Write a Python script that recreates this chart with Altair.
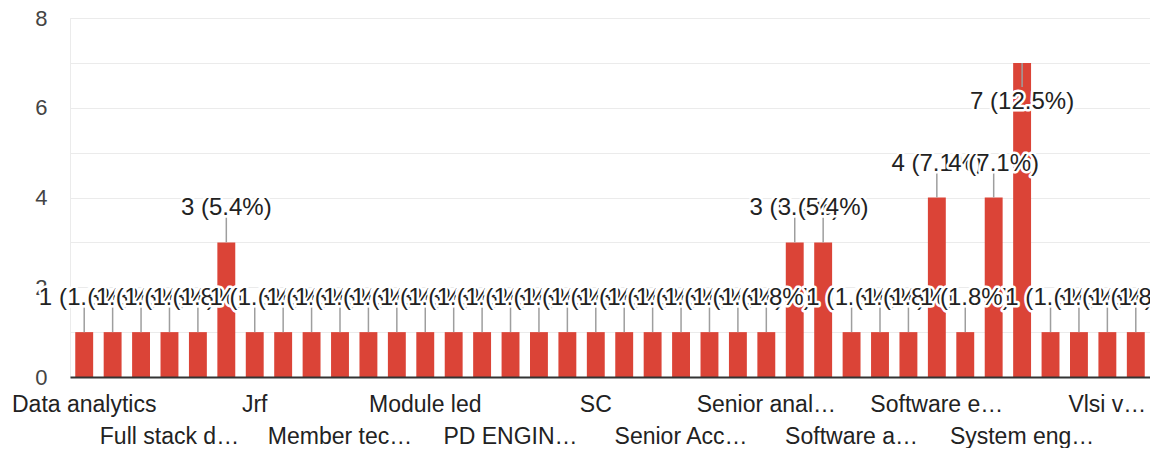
import json
import altair as alt
import pandas as pd

categories = [
    "Data analytics", "Data scientist", "Design engineer", "Full stack developer",
    "Graduate engineer trainee", "Hardware engineer", "Jrf", "Junior engineer",
    "Lecturer", "Member technical staff", "Mobile app developer", "Module developer",
    "Module led", "Network engineer", "Operations analyst", "PD ENGINEER",
    "Project engineer", "Research scholar", "SC", "Scientist", "Security analyst",
    "Senior Accountant", "Senior Associate", "Senior Consultant", "Senior analyst",
    "Senior developer", "Senior software engineer", "Software analyst",
    "Software consultant", "Software developer", "Software engineer",
    "Software tester", "Student", "System engineer", "Teacher", "Test engineer",
    "Vlsi verification engineer", "Web developer",
]
counts = [
    1, 1, 1, 1, 1, 3, 1, 1, 1, 1, 1, 1, 1, 1, 1, 1, 1, 1, 1,
    1, 1, 1, 1, 1, 1, 3, 3, 1, 1, 1, 4, 1, 4, 7, 1, 1, 1, 1,
]
# text shown under the axis (truncated as in the picture); "" = hidden
tick_text = [
    "Data analytics", "", "", "Full stack d…", "", "", "Jrf", "", "",
    "Member tec…", "", "", "Module led", "", "", "PD ENGIN…", "", "", "SC",
    "", "", "Senior Acc…", "", "", "Senior anal…", "", "", "Software a…", "", "",
    "Software e…", "", "", "System eng…", "", "", "Vlsi v…", "",
]
tick_row = [1 if i % 6 == 0 else 2 for i in range(len(categories))]

df = pd.DataFrame({"category": categories, "count": counts, "idx": list(range(len(categories)))})

W, H = 1080, 359
YMAX = 8
PX = YMAX / H
FONT = "Liberation Sans"
RED = "#db4437"

shown = []
for t, r in zip(tick_text, tick_row):
    if t == "":
        shown.append("")
    elif r == 1:
        shown.append(t)
    else:
        shown.append(["", t])
x_label_expr = (
    json.dumps(shown, ensure_ascii=False)
    + "[indexof(" + json.dumps(categories, ensure_ascii=False) + ", datum.value)]"
)

x_enc = alt.X(
    "category:N", sort=categories,
    scale=alt.Scale(paddingInner=0.37, paddingOuter=0.185),
    axis=alt.Axis(
        title=None, labelAngle=0, labelExpr=x_label_expr, labelOverlap=False,
        ticks=False, domainColor="#333333", domainWidth=2, labelPadding=16,
        labelFontSize=23, labelLineHeight=32, labelLimit=400, zindex=1,
        labelColor="#222222", labelFont=FONT, labelBaseline="top",
    ),
)
y_enc = alt.Y(
    "count:Q",
    scale=alt.Scale(domain=[0, YMAX], nice=False),
    axis=alt.Axis(
        title=None, values=list(range(YMAX + 1)),
        labelExpr="datum.value % 2 === 0 ? datum.label : ''",
        grid=True, gridColor="#ebebeb", domain=False, ticks=False,
        labelPadding=23, labelFontSize=22, labelColor="#444444", labelFont=FONT,
    ),
)

base = alt.Chart(df).transform_joinaggregate(
    total="sum(count)", maxc="max(count)"
).transform_calculate(
    label="datum.count + ' (' + format(datum.count / datum.total, '.1%') + ')'",
    lead_end=f"datum.count == datum.maxc ? datum.count - {24 * PX} : datum.count + {25 * PX}",
)

bars = base.mark_bar(color=RED).encode(x=x_enc, y=y_enc)
leads = base.mark_rule(color="#9e9e9e", strokeWidth=1.5).encode(
    x=x_enc, y=y_enc, y2="lead_end:Q"
)

layers = [bars, leads]
top = max(counts)
for i, c in enumerate(counts):
    dy = 39 if c == top else -34
    sub = base.transform_filter(f"datum.idx == {i}")
    halo = sub.mark_text(
        dy=dy, fontSize=24, font=FONT, fill="white", stroke="white",
        strokeWidth=5, strokeJoin="round",
    ).encode(x=x_enc, y=y_enc, text="label:N")
    txt = sub.mark_text(dy=dy, fontSize=24, font=FONT, color="#222222").encode(
        x=x_enc, y=y_enc, text="label:N"
    )
    layers += [halo, txt]

chart = alt.layer(*layers).properties(
    width=W, height=H,
    autosize=alt.AutoSizeParams(type="none"),
    padding={"left": 62, "top": 10, "right": 0, "bottom": 71},
).configure_view(stroke="#ebebeb")

chart.save("out.html", embed_options={"renderer": "svg", "actions": False})
